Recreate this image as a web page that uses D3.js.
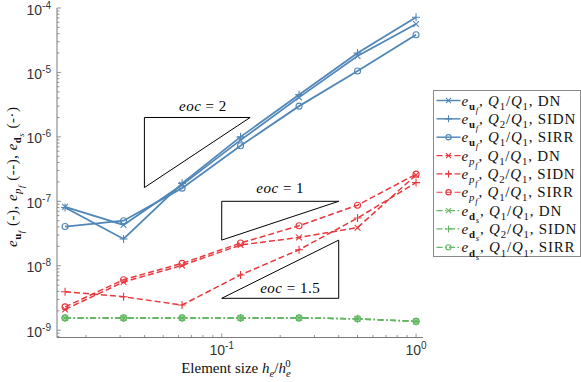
<!DOCTYPE html>
<html>
<head>
<meta charset="utf-8">
<script src="https://cdn.jsdelivr.net/npm/d3@7"></script>
<style>
  body { margin: 0; background: #fff; }
</style>
</head>
<body>
<div id="chart"></div>
<script>
// element sizes h_e / h_e^0
const h = [1/64, 1/32, 1/16, 1/8, 1/4, 1/2, 1];

// fluid velocity error
const uDN   = [8.2e-8, 4.3e-8, 1.8e-7, 8.9e-7, 4.1e-6, 1.8e-5, 5.65e-5];
const uSIDN = [8.0e-8, 2.6e-8, 1.9e-7, 1.0e-6, 4.5e-6, 2.0e-5, 7.2e-5];
const uSIRR = [4.06e-8, 5.0e-8, 1.6e-7, 7.3e-7, 3.0e-6, 1.05e-5, 3.85e-5];

// fluid pressure error
const pDN   = [2.1e-9, 5.6e-9, 1.01e-8, 2.1e-8, 2.75e-8, 3.9e-8, 2.57e-7];
const pSIDN = [3.95e-9, 3.3e-9, 2.46e-9, 7.2e-9, 1.77e-8, 5.5e-8, 1.95e-7];
const pSIRR = [2.3e-9, 6.07e-9, 1.09e-8, 2.25e-8, 4.17e-8, 8.7e-8, 2.64e-7];

// solid displacement error
const dDN   = [1.55e-9, 1.55e-9, 1.55e-9, 1.55e-9, 1.55e-9, 1.5e-9, 1.37e-9];
const dSIDN = [1.55e-9, 1.55e-9, 1.55e-9, 1.55e-9, 1.55e-9, 1.5e-9, 1.37e-9];
const dSIRR = [1.55e-9, 1.55e-9, 1.55e-9, 1.55e-9, 1.55e-9, 1.5e-9, 1.37e-9];

const schemes = ["DN", "SIDN", "SIRR"];
const fluidOrder = ["1", "2", "1"];
const markers = ["x", "+", "o"];

// slope triangles (data coords)
const triX0 = [0.04, 0.1, 0.1];
const triX1 = [0.14, 0.4, 0.4];
const triOrder = [2, 1, 1.5];
const triYRef = [2e-6, 1e-7, 3.125e-9];   // top for first two, bottom for last
const triLabelX = [0.08, 0.2, 0.225];
const triLabelY = [2.5e-6, 1.34e-7, 3.76e-9];

const yTickDecades = [-9, -8, -7, -6, -5, -4];
const xTickDecades = [-1, 0];

const W = 581, H = 382;
const serif = "'Liberation Serif', 'Times New Roman', serif";
const sans = "'Liberation Sans', Arial, sans-serif";

const x = d3.scaleLog().domain([0.0142, 1.086]).range([57, 423]);
const y = d3.scaleLog().domain([7.7e-10, 1e-4]).range([337.5, 8]);

const svg = d3.select("#chart").append("svg")
  .attr("width", W).attr("height", H)
  .attr("viewBox", [0, 0, W, H]);

// rich text helper: parts = [text, style, level]
// style: i italic, b bold, r roman ; level 0 normal, 1 sub, 2 subsub, -1 sup
const richText = (sel, parts, fs) => {
  const off = {0: 0, 1: 0.28, 2: 0.48, "-1": -0.42};
  const size = {0: 1, 1: 0.72, 2: 0.58, "-1": 0.72};
  let cur = 0;
  parts.forEach(([t, st, lv]) => {
    lv = lv || 0;
    const target = off[lv] * fs;
    sel.append("tspan")
      .attr("dy", (target - cur).toFixed(2))
      .style("font-size", (size[lv] * fs) + "px")
      .style("font-style", st === "i" ? "italic" : "normal")
      .style("font-weight", st === "b" ? "bold" : "normal")
      .text(t);
    cur = target;
  });
};

// axes
const axisColor = "#7a7a7a";
const ax = svg.append("g");
ax.append("line").attr("x1", x.range()[0]).attr("x2", x.range()[0])
  .attr("y1", y.range()[0]).attr("y2", y.range()[1])
  .attr("stroke", axisColor).attr("stroke-width", 1);
ax.append("line").attr("x1", x.range()[0]).attr("x2", x.range()[1])
  .attr("y1", y.range()[0]).attr("y2", y.range()[0])
  .attr("stroke", axisColor).attr("stroke-width", 1);

const yMinor = [];
for (let d = -10; d <= -5; d++) for (let k = 2; k <= 9; k++) {
  const v = k * Math.pow(10, d);
  if (v > y.domain()[0] && v < y.domain()[1]) yMinor.push(v);
}
const xMinor = [];
for (let d = -2; d <= 0; d++) for (let k = 2; k <= 9; k++) {
  const v = k * Math.pow(10, d);
  if (v > x.domain()[0] && v < x.domain()[1]) xMinor.push(v);
}

ax.selectAll(".ymin").data(yMinor).join("line")
  .attr("x1", x.range()[0]).attr("x2", x.range()[0] + 2.5)
  .attr("y1", d => y(d)).attr("y2", d => y(d))
  .attr("stroke", axisColor).attr("stroke-width", 0.8);
ax.selectAll(".ymaj").data(yTickDecades).join("line")
  .attr("x1", x.range()[0]).attr("x2", x.range()[0] + 4)
  .attr("y1", d => y(Math.pow(10, d))).attr("y2", d => y(Math.pow(10, d)))
  .attr("stroke", axisColor).attr("stroke-width", 0.8);
ax.selectAll(".xmin").data(xMinor).join("line")
  .attr("x1", d => x(d)).attr("x2", d => x(d))
  .attr("y1", y.range()[0]).attr("y2", y.range()[0] - 2.5)
  .attr("stroke", axisColor).attr("stroke-width", 0.8);
ax.selectAll(".xmaj").data(xTickDecades).join("line")
  .attr("x1", d => x(Math.pow(10, d))).attr("x2", d => x(Math.pow(10, d)))
  .attr("y1", y.range()[0]).attr("y2", y.range()[0] - 4)
  .attr("stroke", axisColor).attr("stroke-width", 0.8);

// tick labels
yTickDecades.forEach(d => {
  const t = ax.append("text")
    .attr("x", x.range()[0] - 6).attr("y", y(Math.pow(10, d)) + 6.5)
    .attr("text-anchor", "end")
    .attr("fill", "#333").style("font-family", sans);
  t.append("tspan").style("font-size", "14px").text("10");
  t.append("tspan").attr("dy", -6).style("font-size", "10px").text(String(d));
});
xTickDecades.forEach(d => {
  const t = ax.append("text")
    .attr("x", x(Math.pow(10, d))).attr("y", 355)
    .attr("text-anchor", "middle")
    .attr("fill", "#333").style("font-family", sans);
  t.append("tspan").style("font-size", "14px").text("10");
  t.append("tspan").attr("dy", -6).style("font-size", "10px").text(String(d));
});

// axis titles
const xl = svg.append("text")
  .attr("x", (x.range()[0] + x.range()[1]) / 2 - 4).attr("y", 373)
  .attr("text-anchor", "middle").attr("fill", "#111")
  .style("font-family", serif);
richText(xl, [["Element size ", "r"], ["h", "i"], ["e", "i", 1], ["/", "r"], ["h", "i"], ["e", "i", 1]], 15);
// superscript 0 over the last subscript
xl.append("tspan").attr("dy", (-0.42 * 15 - 0.28 * 15).toFixed(2)).attr("dx", -5.5)
  .style("font-size", (0.72 * 15) + "px").text("0");

const yl = svg.append("text")
  .attr("transform", `translate(17,${(y.range()[0] + y.range()[1]) / 2 + 4}) rotate(-90)`)
  .attr("text-anchor", "middle").attr("fill", "#111")
  .style("font-family", serif).style("letter-spacing", "0.5px");
richText(yl, [
  ["e", "i"], ["u", "b", 1], ["f", "i", 2], [" (-), ", "r"],
  ["e", "i"], ["p", "i", 1], ["f", "i", 2], [" (--), ", "r"],
  ["e", "i"], ["d", "b", 1], ["s", "i", 2], [" (-\u00b7)", "r"]
], 15);

// slope triangles
const tri = svg.append("g");
triOrder.forEach((p, i) => {
  const x0 = triX0[i], x1 = triX1[i];
  const ratio = Math.pow(x1 / x0, p);
  let pts;
  if (i < 2) {
    const yTop = triYRef[i], yBot = yTop / ratio;
    pts = [[x0, yBot], [x0, yTop], [x1, yTop]];
  } else {
    const yBot = triYRef[i], yTop = yBot * ratio;
    pts = [[x0, yBot], [x1, yBot], [x1, yTop]];
  }
  tri.append("path")
    .attr("d", d3.line()(pts.map(q => [x(q[0]), y(q[1])])) + "Z")
    .attr("fill", "none").attr("stroke", "#000").attr("stroke-width", 1);
  const t = tri.append("text")
    .attr("x", x(triLabelX[i])).attr("y", y(triLabelY[i]))
    .attr("text-anchor", "middle").attr("fill", "#000")
    .style("font-family", serif).style("letter-spacing", "0.5px");
  richText(t, [["eoc", "i"], [" = " + p, "r"]], 15);
});

// series
const blue = "#5087b8", red = "#e9383d", green = "#63b863";
const groups = [
  {vals: [uDN, uSIDN, uSIRR], color: blue, dash: null, width: 1.8, sym: "e", sub: "u", subSt: "b", subsub: "f"},
  {vals: [pDN, pSIDN, pSIRR], color: red, dash: "6,3", width: 1.5, sym: "e", sub: "p", subSt: "i", subsub: "f"},
  {vals: [dDN, dSIDN, dSIRR], color: green, dash: "6,2.5,1.5,2.5", width: 1.5, sym: "e", sub: "d", subSt: "b", subsub: "s"}
];

const drawMarker = (g, type, cx, cy, color, s) => {
  if (type === "o") {
    g.append("circle").attr("cx", cx).attr("cy", cy).attr("r", s * 0.75)
      .attr("fill", "none").attr("stroke", color).attr("stroke-width", 1.1);
  } else if (type === "+") {
    g.append("path").attr("d", `M${cx - s},${cy}H${cx + s}M${cx},${cy - s}V${cy + s}`)
      .attr("stroke", color).attr("stroke-width", 1.1);
  } else {
    const k = s * 0.72;
    g.append("path").attr("d", `M${cx - k},${cy - k}L${cx + k},${cy + k}M${cx - k},${cy + k}L${cx + k},${cy - k}`)
      .attr("stroke", color).attr("stroke-width", 1.1);
  }
};

const line = d3.line().x(d => x(d[0])).y(d => y(d[1]));
const plot = svg.append("g");
groups.forEach(gr => {
  gr.vals.forEach((vals, j) => {
    const pts = h.map((hv, k) => [hv, vals[k]]);
    const g = plot.append("g");
    g.append("path").attr("d", line(pts))
      .attr("fill", "none").attr("stroke", gr.color)
      .attr("stroke-width", gr.width)
      .attr("stroke-dasharray", gr.dash);
    pts.forEach(q => drawMarker(g, markers[j], x(q[0]), y(q[1]), gr.color, 4));
  });
});

// legend
const lg = svg.append("g");
const lgX = 433.5, lgY = 90.5, lgW = 147, lgH = 166, rowH = 18.35;
lg.append("rect").attr("x", lgX).attr("y", lgY).attr("width", lgW).attr("height", lgH)
  .attr("fill", "#fff").attr("stroke", "#8a8a8a").attr("stroke-width", 1);
let row = 0;
groups.forEach(gr => {
  gr.vals.forEach((vals, j) => {
    const cy = lgY + 10 + row * rowH;
    lg.append("line").attr("x1", lgX + 3).attr("x2", lgX + 27)
      .attr("y1", cy).attr("y2", cy)
      .attr("stroke", gr.color).attr("stroke-width", gr.width * 0.8)
      .attr("stroke-dasharray", gr.dash);
    drawMarker(lg, markers[j], lgX + 15, cy, gr.color, 3.5);
    const t = lg.append("text").attr("x", lgX + 28).attr("y", cy + 5)
      .attr("fill", "#111").style("font-family", serif)
      .style("letter-spacing", "0.8px");
    richText(t, [
      [gr.sym, "i"], [gr.sub, gr.subSt, 1], [gr.subsub, "i", 2], [", ", "r"],
      ["Q", "i"], [fluidOrder[j], "r", 1], ["/", "r"], ["Q", "i"], ["1", "r", 1],
      [", " + schemes[j], "r"]
    ], 15);
    row++;
  });
});
</script>
</body>
</html>
